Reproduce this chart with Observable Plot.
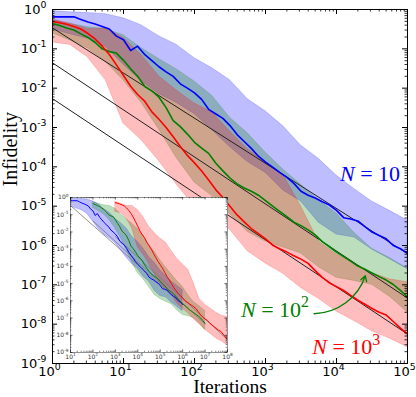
<!DOCTYPE html>
<html><head><meta charset="utf-8">
<script src="https://cdn.jsdelivr.net/npm/d3@7"></script>
<script src="https://cdn.jsdelivr.net/npm/@observablehq/plot@0.6"></script>
<style>
html,body{margin:0;padding:0;background:#fff}
#wrap{position:relative;width:416px;height:397px;overflow:hidden}
#wrap svg{display:block}
</style>
</head><body><div id="wrap"></div>
<script>
// ---------- data ----------
const iters = [1,1.26,1.58,2,2.51,3.16,3.98,5.01,6.31,7.94,
  10,12.6,15.8,20,25.1,31.6,39.8,50.1,63.1,79.4,
  100,126,158,200,251,316,398,501,631,794,
  1000,1260,1580,2000,2510,3160,3980,5010,6310,7940,
  1e4,12600,15800,20000,25100,31600,39800,50100,63100,79400,1e5];

const blueLine = [0.65,0.65,0.65,0.65,0.56,0.48,0.43,0.37,0.32,0.21,
  0.17,0.091,0.117,0.071,0.050,0.035,0.026,0.020,0.0129,0.010,
  0.0076,0.0052,0.0029,0.0022,0.0017,0.00112,6.6e-4,4.4e-4,2.95e-4,1.86e-4,
  1.32e-4,9.8e-5,7.2e-5,5.4e-5,3.8e-5,2.4e-5,1.9e-5,1.62e-5,1.29e-5,1.07e-5,
  7.8e-6,5.1e-6,4.7e-6,4.2e-6,3.0e-6,2.2e-6,1.8e-6,1.48e-6,1.0e-6,8.3e-7,6.3e-7];
const greenLine = [0.44,0.39,0.34,0.30,0.24,0.195,0.145,0.10,0.085,0.078,
  0.051,0.031,0.020,0.011,0.0085,0.0059,0.0032,0.0015,0.00105,6.8e-4,
  4.2e-4,3.0e-4,2.2e-4,1.23e-4,7.9e-5,5.2e-5,3.7e-5,2.9e-5,2.4e-5,1.9e-5,
  1.38e-5,1.0e-5,7.4e-6,5.4e-6,3.9e-6,3.2e-6,2.5e-6,1.86e-6,1.26e-6,9.3e-7,
  6.8e-7,5.2e-7,4.0e-7,3.0e-7,2.5e-7,2.0e-7,1.62e-7,1.32e-7,1.02e-7,7.2e-8,4.9e-8];
const redLine = [0.50,0.46,0.42,0.37,0.32,0.245,0.178,0.117,0.072,0.039,
  0.021,0.0112,0.0069,0.0046,0.0025,0.00162,0.0010,5.8e-4,3.3e-4,1.95e-4,
  1.26e-4,7.8e-5,4.6e-5,2.6e-5,1.66e-5,1.0e-5,6.0e-6,4.0e-6,2.7e-6,2.0e-6,
  1.48e-6,1.02e-6,8.3e-7,6.8e-7,5.5e-7,4.5e-7,3.5e-7,2.3e-7,1.55e-7,1.12e-7,
  8.9e-8,7.2e-8,5.4e-8,4.1e-8,3.2e-8,2.5e-8,2.0e-8,1.7e-8,1.17e-8,7.9e-9,5.6e-9];

const bandIters = [1,1.78,3.16,5.62,10,17.8,31.6,56.2,100,178,316,562,1000,1780,3160,5620,1e4,17800,31600,56200,1e5];
const blueHi  = [0.91,0.85,0.81,0.76,0.60,0.40,0.21,0.126,0.058,0.032,0.016,0.0052,0.0026,0.00107,3.5e-4,1.6e-4,6.0e-5,2.75e-5,1.32e-5,7.6e-6,4.3e-6];
const blueLo  = [0.31,0.234,0.18,0.112,0.040,0.015,0.0071,0.0042,0.0022,8.5e-4,3.2e-4,1.32e-4,7.1e-5,2.5e-5,1.32e-5,3.8e-6,1.9e-6,1.6e-6,7.9e-7,4.5e-7,2.5e-7];
const greenHi = [0.54,0.43,0.355,0.32,0.22,0.105,0.055,0.030,0.0148,0.0063,0.00178,7.1e-4,2.3e-4,8.5e-5,3.5e-5,1.41e-5,6.5e-6,2.1e-6,8.3e-7,4.8e-7,2.6e-7];
const greenLo = [0.25,0.162,0.102,0.046,0.0158,0.0043,8.9e-4,1.66e-4,4.0e-5,1.78e-5,6.3e-6,2.2e-6,1.26e-6,8.9e-7,6.3e-7,2.8e-7,1.51e-7,1.26e-7,1.0e-7,5.0e-8,2.0e-8];
const redHi   = [0.56,0.44,0.32,0.33,0.19,0.071,0.020,0.0087,0.0041,0.0024,7.9e-4,2.8e-4,1.35e-4,6.3e-5,1.0e-5,1.26e-6,6.0e-7,3.5e-7,2.0e-7,1.38e-7,1.17e-7];
const redLo   = [0.145,0.126,0.060,0.0158,0.00126,4.8e-4,1.41e-4,3.5e-5,1.0e-5,5.0e-6,2.5e-6,7.1e-7,3.5e-7,1.9e-7,8.3e-8,4.4e-8,2.1e-8,1.2e-8,6.6e-9,4.3e-9,2.6e-9];

// power-law guide lines: value at 1 iteration and at 1e5 iterations
const fitStart = [0.34, 0.044, 0.0054];
const fitEnd   = [6.2e-7, 4.6e-8, 5.6e-9];

const sizes  = [10, 100, 1000];
const colors = ["#0000ff", "#008000", "#ff0000"];
const labelTexts = ["*N* = 10", "*N* = 10^2", "*N* = 10^3"];
const labelX = [1.12e4, 452, 4550];
const labelY = [4.4e-5, 1.55e-8, 1.7e-9];
const arrowFrom = {x: 4850, y: 1.84e-8};
const arrowTo   = {x: 2.55e4, y: 1.7e-7};

const xTicks = [1, 10, 100, 1e3, 1e4, 1e5];
const yTicks = [1e-9,1e-8,1e-7,1e-6,1e-5,1e-4,1e-3,1e-2,1e-1,1];
const xTicksInset = [10,100,1e3,1e4,1e5,1e6,1e7,1e8];

// ---------- helpers ----------
const lines = [blueLine, greenLine, redLine];
const his = [blueHi, greenHi, redHi];
const los = [blueLo, greenLo, redLo];
const fmt = d => "10^" + Math.round(Math.log10(d));
const isMajor = v => Math.abs(Math.log10(v) - Math.round(Math.log10(v))) < 1e-6;
const minors = dom => d3.scaleLog().domain(dom).ticks().filter(v => !isMajor(v));

function frameTicks(xMaj, xMin, yMaj, yMin, W, H, big, small, sw) {
  const s = {stroke: "black", strokeWidth: sw};
  const m = {stroke: "black", strokeWidth: sw * 0.8};
  return [
    Plot.tickX(xMaj, {...s, insetTop: H - big}), Plot.tickX(xMaj, {...s, insetBottom: H - big}),
    Plot.tickX(xMin, {...m, insetTop: H - small}), Plot.tickX(xMin, {...m, insetBottom: H - small}),
    Plot.tickY(yMaj, {...s, insetRight: W - big}), Plot.tickY(yMaj, {...s, insetLeft: W - big}),
    Plot.tickY(yMin, {...m, insetRight: W - small}), Plot.tickY(yMin, {...m, insetLeft: W - small})
  ];
}

function seriesMarks(scale, lw, fitColor, fitW) {
  const marks = [];
  sizes.forEach((n, i) => {
    const k = scale ? n : 1;
    const rows = bandIters.map((x, j) => ({x: x * k, lo: los[i][j], hi: his[i][j]}));
    marks.push(Plot.areaY(rows, {x: "x", y1: "lo", y2: "hi", fill: colors[i], fillOpacity: 0.26,
      stroke: colors[i], strokeOpacity: 0.22, strokeWidth: 0.8, clip: true}));
  });
  sizes.forEach((n, i) => {
    const k = scale ? n : 1;
    marks.push(Plot.line([{x: 1 * k, y: fitStart[i]}, {x: 1e5 * k, y: fitEnd[i]}],
      {x: "x", y: "y", stroke: fitColor, strokeWidth: fitW, clip: true}));
  });
  sizes.forEach((n, i) => {
    const k = scale ? n : 1;
    const rows = iters.map((x, j) => ({x: x * k, y: lines[i][j]}));
    marks.push(Plot.line(rows, {x: "x", y: "y", stroke: colors[i], strokeWidth: lw, clip: true}));
  });
  return marks;
}

function richText(svg) {
  const ns = "http://www.w3.org/2000/svg";
  svg.querySelectorAll("text").forEach(el => {
    const s = el.textContent;
    if (!/[\^*]/.test(s)) return;
    const parts = s.match(/\*[^*]+\*|\^\S+|[^*^]+/g);
    el.textContent = "";
    for (const p of parts) {
      const t = document.createElementNS(ns, "tspan");
      if (p[0] === "*") { t.textContent = p.slice(1, -1); t.setAttribute("font-style", "italic"); }
      else if (p[0] === "^") { t.textContent = p.slice(1); t.style.fontSize = "72%"; t.setAttribute("dy", "-0.6em"); }
      else t.textContent = p;
      el.appendChild(t);
    }
  });
}

// ---------- main chart ----------
const W = 416, H = 397, mL = 52, mR = 9, mT = 9, mB = 34;
const fw = W - mL - mR, fh = H - mT - mB;

const main = Plot.plot({
  width: W, height: H, marginLeft: mL, marginRight: mR, marginTop: mT, marginBottom: mB,
  style: {background: "white"},
  x: {type: "log", domain: [1, 1e5]},
  y: {type: "log", domain: [1e-9, 1]},
  marks: [
    ...seriesMarks(false, 1.6, "#222", 1),
    Plot.arrow([{x1: arrowFrom.x, y1: arrowFrom.y, x2: arrowTo.x, y2: arrowTo.y}],
      {x1: "x1", y1: "y1", x2: "x2", y2: "y2", bend: -35, stroke: "#008000", strokeWidth: 1.3, headLength: 7}),
    Plot.text(labelTexts, {x: (d, i) => labelX[i], y: (d, i) => labelY[i], text: d => d,
      fill: (d, i) => colors[i], textAnchor: "start", lineAnchor: "bottom",
      fontFamily: "Liberation Serif", fontSize: 22}),
    Plot.frame({stroke: "black", strokeWidth: 1}),
    ...frameTicks(xTicks, minors([1, 1e5]), yTicks, minors([1e-9, 1]), fw, fh, 5, 2.5, 1),
    Plot.axisX(xTicks, {anchor: "bottom", tickSize: 0, tickPadding: 3, tickFormat: fmt, label: null,
      dx: -3, fontSize: 13, fontFamily: "DejaVu Sans", fill: "black"}),
    Plot.axisY(yTicks, {anchor: "left", tickSize: 0, tickPadding: 6, tickFormat: fmt, label: null,
      fontSize: 13, fontFamily: "DejaVu Sans", fill: "black"}),
    Plot.text(["Iterations"], {frameAnchor: "bottom", lineAnchor: "bottom", dy: 29,
      fontFamily: "Liberation Serif", fontSize: 19.5, fill: "black"}),
    Plot.text(["Infidelity"], {frameAnchor: "left", lineAnchor: "bottom", rotate: -90, dx: -36,
      fontFamily: "Liberation Serif", fontSize: 20, fill: "black"})
  ]
});
richText(main);

// ---------- inset ----------
const iW = 181, iH = 172, iL = 16, iR = 8, iT = 4, iB = 13;
const inset = Plot.plot({
  width: iW, height: iH, marginLeft: iL, marginRight: iR, marginTop: iT, marginBottom: iB,
  x: {type: "log", domain: [10, 1e8]},
  y: {type: "log", domain: [1e-9, 1]},
  marks: [
    Plot.frame({fill: "white"}),
    ...seriesMarks(true, 1, "#777", 0.8),
    Plot.frame({stroke: "#777", strokeWidth: 0.8}),
    ...frameTicks(xTicksInset, minors([10, 1e8]), yTicks, minors([1e-9, 1]), iW - iL - iR, iH - iT - iB, 2.5, 1.3, 0.6),
    Plot.axisX(xTicksInset, {anchor: "bottom", tickSize: 0, tickPadding: 2, tickFormat: fmt, label: null,
      fontSize: 6, fontFamily: "DejaVu Sans", fill: "#333"}),
    Plot.axisY(yTicks, {anchor: "left", tickSize: 0, tickPadding: 2, tickFormat: fmt, label: null,
      fontSize: 6, fontFamily: "DejaVu Sans", fill: "#333"})
  ]
});
richText(inset);
inset.style.position = "absolute";
inset.style.left = "54px";
inset.style.top = "193px";
inset.style.background = "none";

const wrap = document.getElementById("wrap");
wrap.appendChild(main);
wrap.appendChild(inset);
</script>
</body></html>
